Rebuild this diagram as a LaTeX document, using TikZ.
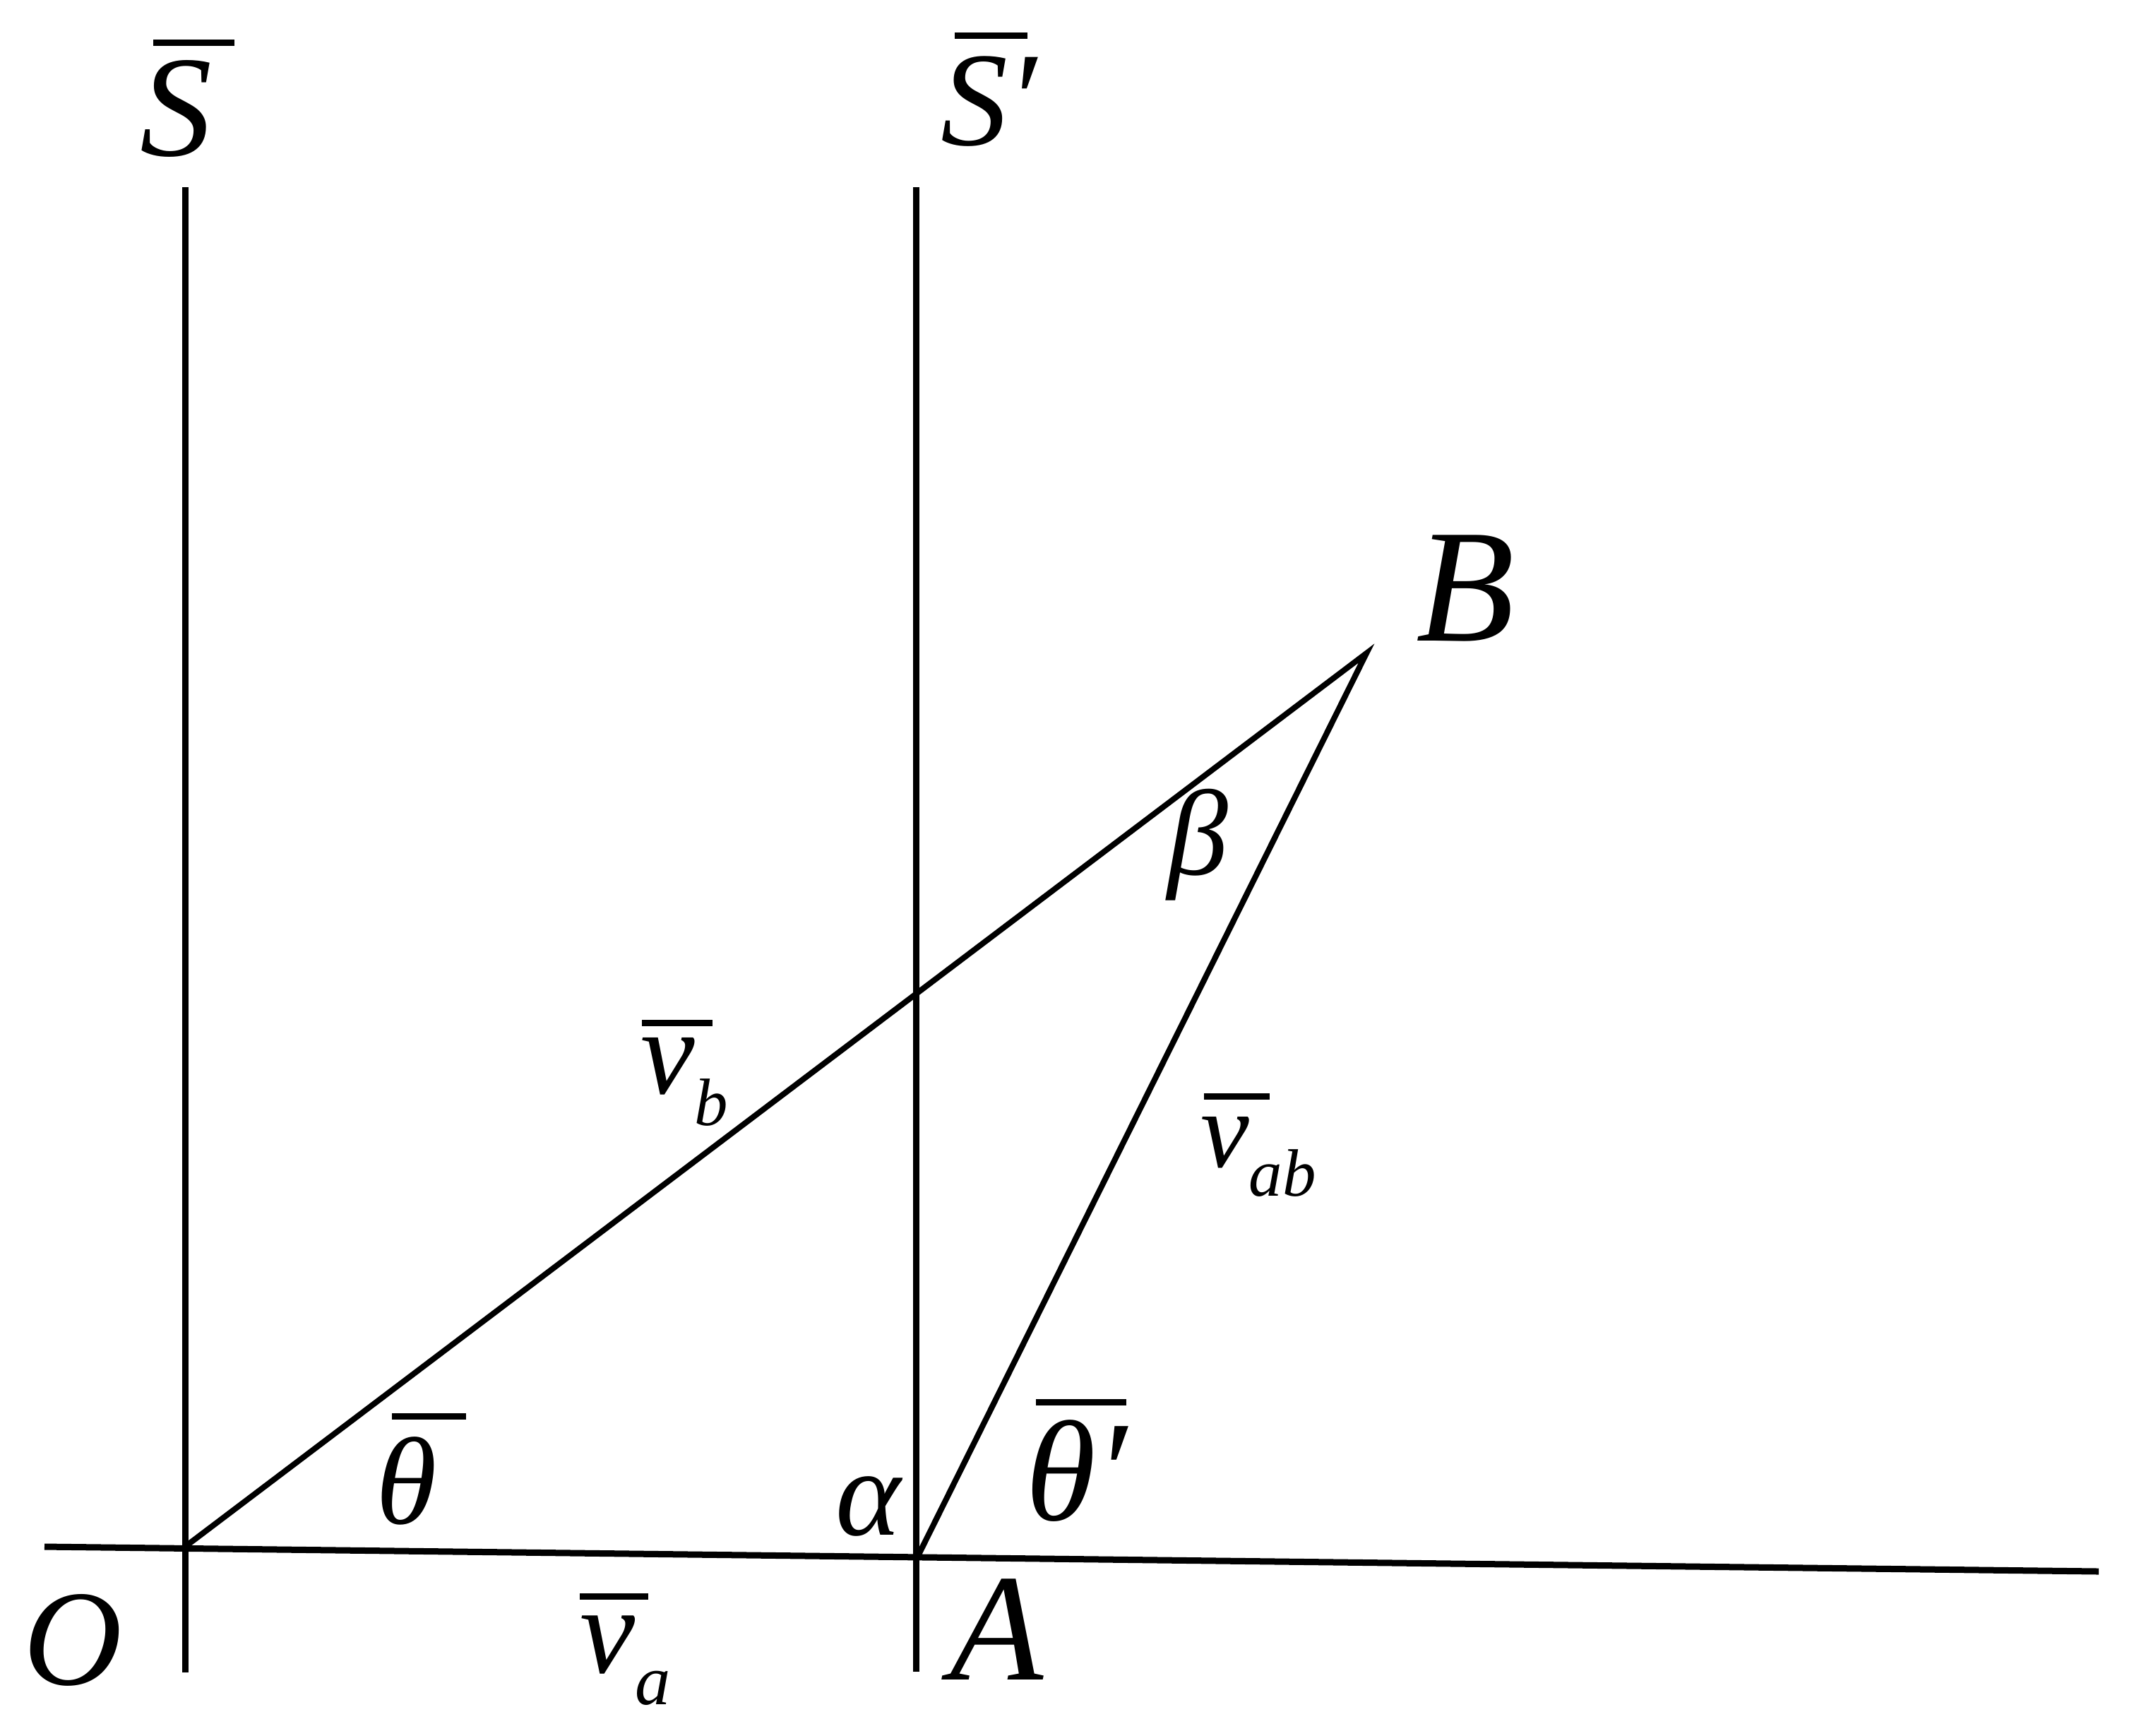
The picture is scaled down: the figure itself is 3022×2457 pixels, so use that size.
\documentclass[tikz,border=0pt]{standalone}
\usepackage{fontspec}
\setmainfont{Liberation Serif}
\newlength\pxu
\setlength\pxu{0.01cm}
% bar over a label: left offset, width, raise (all in px)
\newcommand\ovb[3]{\makebox[0pt][l]{\kern#1\pxu\rule[#3\pxu]{#2\pxu}{9.5\pxu}}}
\newcommand\subdrop[3]{\raisebox{-#1}{\fontsize{#2}{#2}\selectfont #3}}
\newcommand\fs[1]{\fontsize{#1}{#1}\selectfont\itshape}
\begin{document}
\begin{tikzpicture}[x=0.01cm,y=-0.01cm,
  axis/.style={line width=2.56pt},
  vec/.style={line width=2.3pt, line join=miter},
  lbl/.style={inner sep=0pt, outer sep=0pt, anchor=base west}]
\useasboundingbox (0,0) rectangle (3022,2457);
\coordinate (O) at (262,2190);
\coordinate (A) at (1300,2203);
\coordinate (B) at (1935,925);
\coordinate (Hl) at (63,2190);
\coordinate (Hr) at (2972,2225);
\coordinate (St) at (262,265);
\coordinate (Sb) at (262,2368);
\coordinate (Spt) at (1297,265);
\coordinate (Spb) at (1297,2367);
\draw[axis] (Hl) -- (Hr);
\draw[axis] (St) -- (Sb);
\draw[axis] (Spt) -- (Spb);
\draw[vec] (O) -- (B) -- (A);
% labels
\node[lbl, font=\fs{58}] (Slbl) at (198,220) {\ovb{19}{115}{155}S};
\node[lbl, font=\fs{54}] (Splbl) at (1332,205) {\ovb{20}{103}{150}S′};
\node[lbl, font=\fs{65}] (Blbl) at (2005,907) {B};
\node[lbl, font=\fs{55}] (Olbl) at (33,2385) {O};
\node[lbl, font=\fs{61.5}] (Albl) at (1345,2378) {A};
\node[lbl, font=\fs{50}] (alpha) at (1183,2173) {α};
\node[lbl, font=\fs{49}] (beta) at (1653,1238) {β};
\node[lbl, font=\fs{50}] (theta) at (532,2157) {\ovb{23}{105}{147}θ};
\node[lbl, font=\fs{57.7}] (thetap) at (1452,2152) {\ovb{15}{128}{162}θ′};
\node[lbl, font=\fs{50}] (va) at (821,2368) {\ovb{0}{97}{103}v\subdrop{12.8pt}{28.6}{a}};
\node[lbl, font=\fs{49}] (vb) at (907,1548) {\ovb{2}{100}{95}v\subdrop{12.8pt}{27}{b}};
\node[lbl, font=\fs{44}] (vab) at (1700,1652) {\ovb{5}{93}{95}v\subdrop{11.7pt}{27}{ab}};
\end{tikzpicture}
\end{document}
